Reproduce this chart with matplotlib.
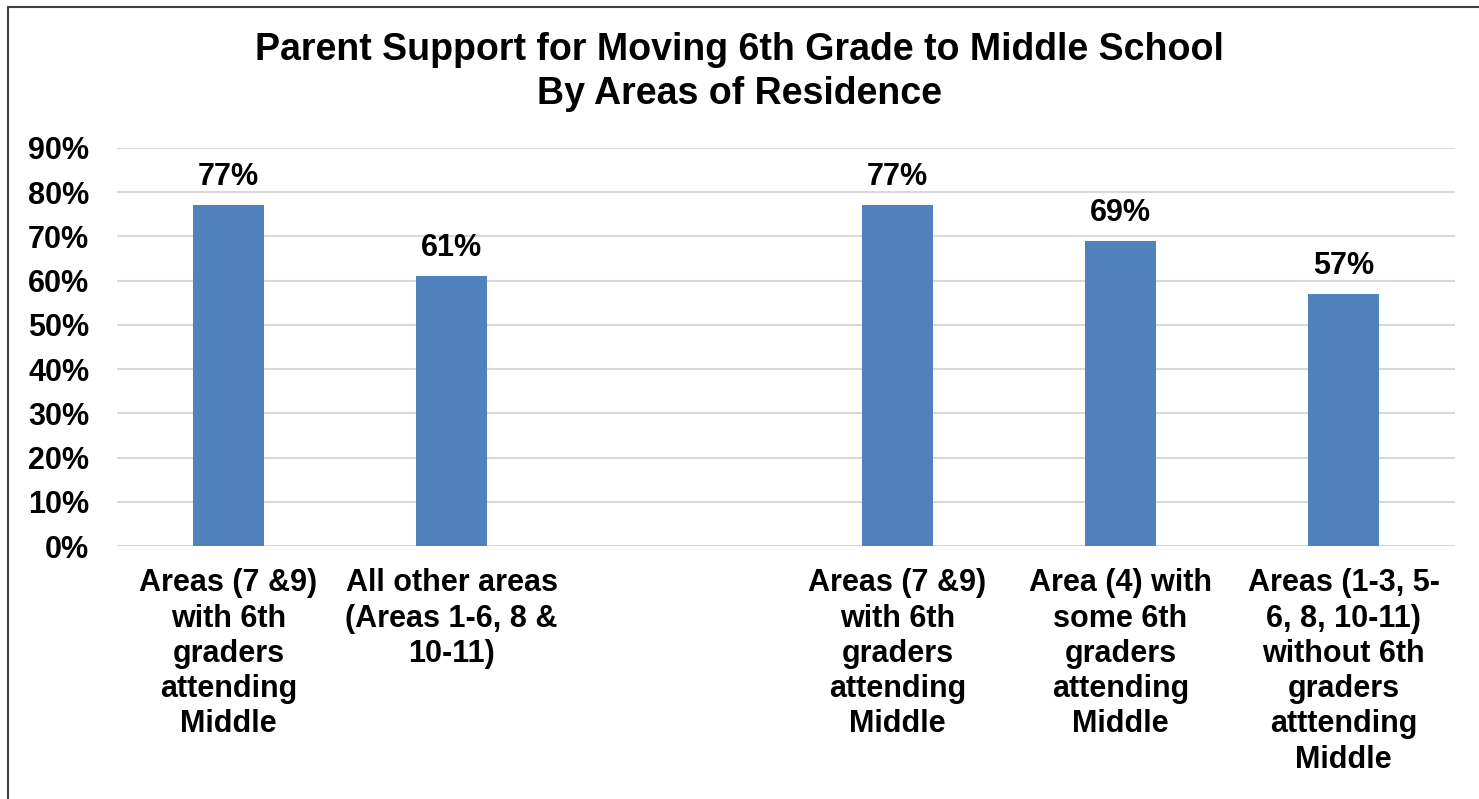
import matplotlib.pyplot as plt
from matplotlib.patches import Rectangle
import numpy as np

plt.rcParams['font.family'] = ['Liberation Sans', 'DejaVu Sans']
plt.rcParams['font.weight'] = 'bold'

# six slots, the third one is left empty to split the two groups
categories = [
    'Areas (7 &9)\nwith 6th\ngraders\nattending\nMiddle',
    'All other areas\n(Areas 1-6, 8 &\n10-11)',
    '',
    'Areas (7 &9)\nwith 6th\ngraders\nattending\nMiddle',
    'Area (4) with\nsome 6th\ngraders\nattending\nMiddle',
    'Areas (1-3, 5-\n6, 8, 10-11)\nwithout 6th\ngraders\natttending\nMiddle',
]
support = [77, 61, None, 77, 69, 57]
yticks = [0, 10, 20, 30, 40, 50, 60, 70, 80, 90]

fig = plt.figure(figsize=(14.79, 7.99), dpi=100)
ax = fig.add_axes([117 / 1479, 1 - 546 / 799, 1338 / 1479, 398 / 799])

x = np.arange(len(categories))
for xi, v in zip(x, support):
    if v is None:
        continue
    ax.bar(xi, v, width=0.314, color='#4F81BD', zorder=3)
    ax.text(xi, v + 3.0, f'{v}%', ha='center', va='bottom',
            fontsize=22, fontweight='bold')

ax.set_xlim(-0.5, len(categories) - 0.5)
ax.set_ylim(0, 90)
ax.set_yticks(yticks)
ax.set_yticklabels([f'{t}%' for t in yticks], fontsize=22, fontweight='bold')
ax.set_xticks(x)
ax.set_xticklabels(categories, fontsize=22, fontweight='bold', linespacing=1.23, va='top')
ax.tick_params(axis='both', length=0)
ax.tick_params(axis='x', pad=16)
ax.tick_params(axis='y', pad=20)
ax.grid(axis='y', color='#D9D9D9', linewidth=1.5, zorder=0)
for s in ax.spines.values():
    s.set_visible(False)

fig.text(0.5, 1 - 72 / 799, 'Parent Support for Moving 6th Grade to Middle School\nBy Areas of Residence',
         ha='center', va='center', fontsize=27, fontweight='bold', linespacing=1.25)

# outer frame, cut off on the right and bottom
fig.patches.append(Rectangle((8 / 1479, -0.1), 1.2, 1 - 7 / 799 + 0.1,
                             transform=fig.transFigure, fill=False,
                             edgecolor='#404040', linewidth=1.5))

fig.savefig('out.png', dpi=100)
